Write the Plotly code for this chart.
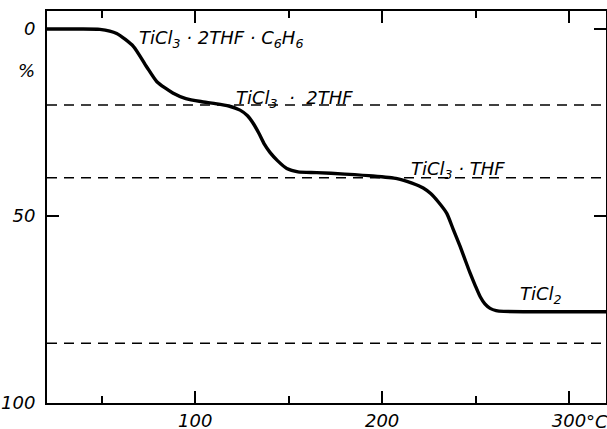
import plotly.graph_objects as go

# Thermogravimetric curve: temperature (°C) vs mass loss (%)
temperature = [20.7, 35, 49, 58, 67, 74, 79.5, 88, 95, 103, 110, 118, 124, 128, 131,
               134, 137, 140, 144, 149, 155, 165, 180, 195, 208, 216, 222, 226, 230,
               234.6, 238, 241.8, 245, 247.1, 250, 252.5, 255, 257.8, 261, 265, 280, 300, 319.8]
mass_loss = [0, 0, 0.1, 1.2, 4.7, 10.1, 14.1, 17.1, 18.6, 19.4, 19.9, 20.6, 21.7, 23.2, 25.2,
             27.8, 30.8, 33.0, 35.2, 37.3, 38.2, 38.4, 38.8, 39.3, 40.0, 41.2, 42.5, 44.0, 46.2,
             49.3, 53.5, 58.2, 62.5, 65.3, 68.8, 71.6, 73.5, 74.7, 75.3, 75.5, 75.6, 75.6, 75.6]

# Theoretical levels (dashed)
levels = [20.3, 39.8, 84.0]

# Compound labels: text, temperature, mass loss position
label_texts = ["TiCl<sub>3</sub> · 2THF · C<sub>6</sub>H<sub>6</sub>",
               "TiCl<sub>3</sub>\u00a0\u00a0·\u00a0\u00a02THF",
               "TiCl<sub>3</sub> · THF",
               "TiCl<sub>2</sub>"]
label_x = [68.8, 120.8, 214.5, 272.5]
label_y = [2.6, 18.7, 37.6, 71.2]

x_ticks = [100, 200, 300]
x_ticktext = ["100", "200", "300"]
x_minor_ticks = [50, 150, 250]
y_ticks = [0, 50, 100]
y_ticktext = ["0", "50", "100"]

FONT = dict(family="DejaVu Sans", size=18, color="black")


def it(s):
    return "<i>" + s + "</i>"


fig = go.Figure()
fig.add_trace(go.Scatter(x=temperature, y=mass_loss, mode="lines",
                         line=dict(color="black", width=3.4, shape="spline", smoothing=0.6),
                         hoverinfo="skip", showlegend=False))

for lv in levels:
    fig.add_shape(type="line", xref="paper", x0=0, x1=1, yref="y", y0=lv, y1=lv,
                  line=dict(color="black", width=1.5, dash="10px,7px"), layer="below")

for t, x, y in zip(label_texts, label_x, label_y):
    fig.add_annotation(x=x, y=y, text=it(t), showarrow=False, xanchor="left", yanchor="middle",
                       font=FONT)

# % unit label and °C
fig.add_annotation(xref="paper", yref="y", x=-0.037, y=11.0, text=it("%"), showarrow=False,
                   xanchor="center", yanchor="middle", font=FONT)
fig.add_annotation(xref="x", yref="paper", x=300, y=0, text=it("°C"), showarrow=False,
                   xanchor="left", yanchor="top", xshift=15, yshift=-6, font=FONT)

fig.update_xaxes(range=[20.7, 319.8], tickmode="array", tickvals=x_ticks,
                 ticktext=[it(t) for t in x_ticktext],
                 ticks="inside", ticklen=12, tickwidth=1.5, tickcolor="black",
                 minor=dict(tickmode="array", tickvals=x_minor_ticks, ticks="inside", ticklen=7,
                            tickwidth=1.5, tickcolor="black", showgrid=False),
                 showline=True, linecolor="black", linewidth=2, mirror="ticks",
                 showgrid=False, zeroline=False, tickfont=FONT, automargin=False)
fig.update_yaxes(range=[100, -4.8], tickmode="array", tickvals=y_ticks,
                 ticktext=[it(t) for t in y_ticktext],
                 ticks="inside", ticklen=12, tickwidth=1.5, tickcolor="black",
                 showline=True, linecolor="black", linewidth=2, mirror="ticks",
                 showgrid=False, zeroline=False, tickfont=FONT, automargin=False,
                 ticklabelstandoff=6)

fig.update_layout(width=607, height=429, margin=dict(l=47, r=1, t=11, b=26, autoexpand=False),
                  plot_bgcolor="white", paper_bgcolor="white", font=FONT,
                  showlegend=False)

fig.write_html("out.html", config={"displayModeBar": False},
               post_script="document.body.style.margin='0';document.body.style.overflow='hidden';")
